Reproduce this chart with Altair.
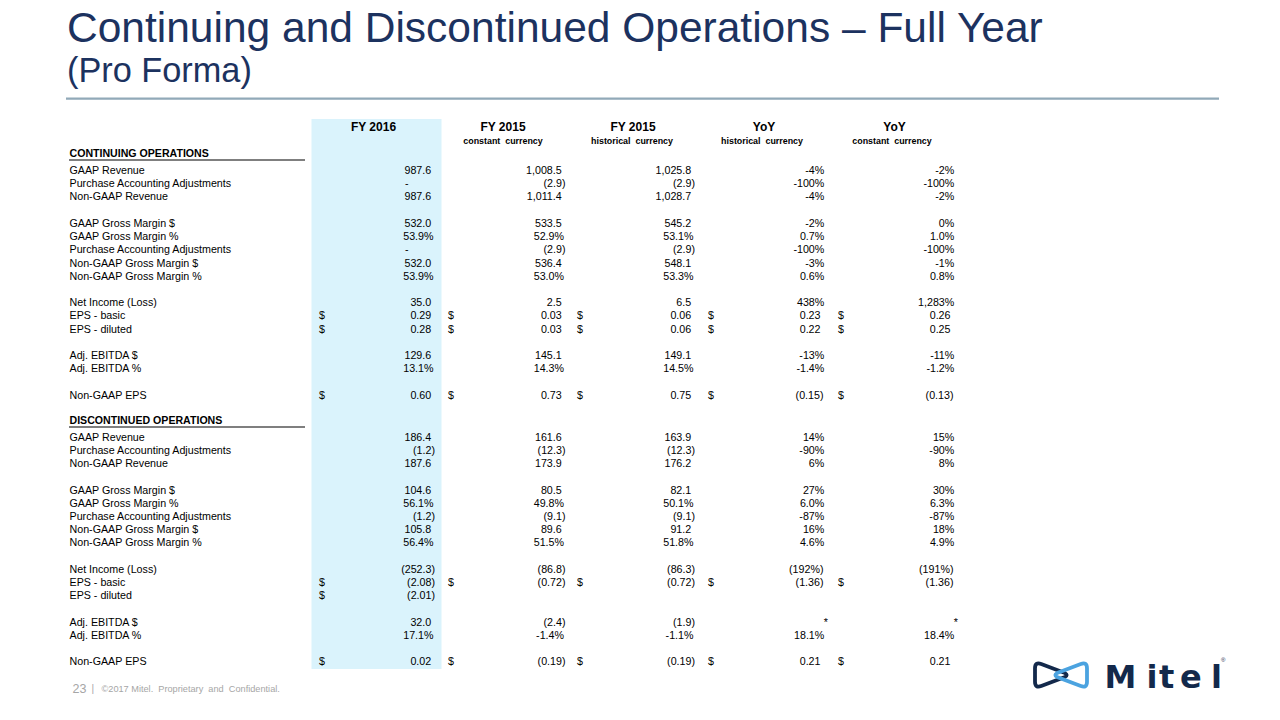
import altair as alt
import pandas as pd

# ------------------------------------------------------------------ data
title_line1 = "Continuing and Discontinued Operations \u2013 Full Year"
title_line2 = "(Pro Forma)"
page_number = "23"
footer_text = "\u00a92017 Mitel.\u00a0 Proprietary\u00a0 and\u00a0 Confidential."

col_heads = ["FY 2016", "FY 2015", "FY 2015", "YoY", "YoY"]
col_subheads = ["", "constant\u00a0 currency", "historical\u00a0 currency",
                "historical\u00a0 currency", "constant\u00a0 currency"]
section_titles = ["CONTINUING OPERATIONS", "DISCONTINUED OPERATIONS"]

row_labels = ["GAAP Revenue", "Purchase Accounting Adjustments", "Non-GAAP Revenue", "",
              "GAAP Gross Margin $", "GAAP Gross Margin %", "Purchase Accounting Adjustments",
              "Non-GAAP Gross Margin $", "Non-GAAP Gross Margin %", "",
              "Net Income (Loss)", "EPS - basic", "EPS - diluted", "",
              "Adj. EBITDA $", "Adj. EBITDA %", "", "Non-GAAP EPS"]
dollar_rows = ["EPS - basic", "EPS - diluted", "Non-GAAP EPS"]

cont_fy2016 = ["987.6", "-", "987.6", "", "532.0", "53.9%", "-", "532.0", "53.9%", "",
               "35.0", "0.29", "0.28", "", "129.6", "13.1%", "", "0.60"]
cont_fy2015_cc = ["1,008.5", "(2.9)", "1,011.4", "", "533.5", "52.9%", "(2.9)", "536.4", "53.0%", "",
                  "2.5", "0.03", "0.03", "", "145.1", "14.3%", "", "0.73"]
cont_fy2015_hist = ["1,025.8", "(2.9)", "1,028.7", "", "545.2", "53.1%", "(2.9)", "548.1", "53.3%", "",
                    "6.5", "0.06", "0.06", "", "149.1", "14.5%", "", "0.75"]
cont_yoy_hist = ["-4%", "-100%", "-4%", "", "-2%", "0.7%", "-100%", "-3%", "0.6%", "",
                 "438%", "0.23", "0.22", "", "-13%", "-1.4%", "", "(0.15)"]
cont_yoy_cc = ["-2%", "-100%", "-2%", "", "0%", "1.0%", "-100%", "-1%", "0.8%", "",
               "1,283%", "0.26", "0.25", "", "-11%", "-1.2%", "", "(0.13)"]

disc_fy2016 = ["186.4", "(1.2)", "187.6", "", "104.6", "56.1%", "(1.2)", "105.8", "56.4%", "",
               "(252.3)", "(2.08)", "(2.01)", "", "32.0", "17.1%", "", "0.02"]
disc_fy2015_cc = ["161.6", "(12.3)", "173.9", "", "80.5", "49.8%", "(9.1)", "89.6", "51.5%", "",
                  "(86.8)", "(0.72)", "", "", "(2.4)", "-1.4%", "", "(0.19)"]
disc_fy2015_hist = ["163.9", "(12.3)", "176.2", "", "82.1", "50.1%", "(9.1)", "91.2", "51.8%", "",
                    "(86.3)", "(0.72)", "", "", "(1.9)", "-1.1%", "", "(0.19)"]
disc_yoy_hist = ["14%", "-90%", "6%", "", "27%", "6.0%", "-87%", "16%", "4.6%", "",
                 "(192%)", "(1.36)", "", "", "*", "18.1%", "", "0.21"]
disc_yoy_cc = ["15%", "-90%", "8%", "", "30%", "6.3%", "-87%", "18%", "4.9%", "",
               "(191%)", "(1.36)", "", "", "*", "18.4%", "", "0.21"]

sections = [
    [cont_fy2016, cont_fy2015_cc, cont_fy2015_hist, cont_yoy_hist, cont_yoy_cc],
    [disc_fy2016, disc_fy2015_cc, disc_fy2015_hist, disc_yoy_hist, disc_yoy_cc],
]
logo_letters = ["M", "i", "t", "e", "l"]

# ------------------------------------------------------------------ layout
W, H = 1264, 700
FONT = "Liberation Sans"
NAVY = "#1C325F"
ROW_STEP = 13.22
sec_first_y = [170.0, 436.7]
sec_head_y = [152.7, 420.0]
sec_rule_y = [159.0, 426.0]
label_x = 69.5
col_right = [435.0, 565.5, 695.0, 823.5, 953.5]
dollar_x = [319.0, 448.0, 577.0, 708.0, 838.0]
head_x = [373.5, 503.0, 633.0, 764.0, 894.5]
subhead_x = [373.5, 503.0, 632.0, 762.0, 892.0]


def value_x(s, ci):
    r = col_right[ci]
    if s.endswith(")"):
        return r
    if s == "-":
        return r - 26.5
    if s == "*":
        return r + 4.5
    if s.endswith("%"):
        return r + (-1.5 if ci < 3 else 0.8)
    return r - (3.8 if ci < 3 else 3.0)


X = alt.X("x:Q", scale=alt.Scale(domain=[8, 8 + W], nice=False, zero=False), axis=None)
Y = alt.Y("y:Q", scale=alt.Scale(domain=[8, 8 + H], nice=False, zero=False, reverse=True), axis=None)


def text_layer(records, align, size, weight="normal", color="#000000",
               baseline="middle", font=FONT):
    df = pd.DataFrame(records, columns=["x", "y", "t"])
    return alt.Chart(df).mark_text(
        align=align, baseline=baseline, fontSize=size, fontWeight=weight,
        color=color, font=font
    ).encode(x=X, y=Y, text="t:N")


labels, values, dollars, sec_heads, sec_rules = [], [], [], [], []
for si, cols in enumerate(sections):
    sec_heads.append((label_x, sec_head_y[si], section_titles[si]))
    sec_rules.append({"x": 69.0, "x2": 305.0, "y": sec_rule_y[si]})
    for ri, lab in enumerate(row_labels):
        y = sec_first_y[si] + ri * ROW_STEP
        if lab:
            labels.append((label_x, y, lab))
        for ci, col in enumerate(cols):
            v = col[ri]
            if not v:
                continue
            values.append((value_x(v, ci), y, v))
            if lab in dollar_rows:
                dollars.append((dollar_x[ci], y, "$"))

heads = [(head_x[i], 125.7, col_heads[i]) for i in range(5)]
subheads = [(subhead_x[i], 140.0, col_subheads[i]) for i in range(5) if col_subheads[i]]

band = alt.Chart(pd.DataFrame([{"x": 311.5, "x2": 441.5, "y": 118.0, "y2": 668.0}])).mark_rect(
    color="#DAF3FC").encode(x=X, x2="x2:Q", y=Y, y2="y2:Q")

rules = alt.Chart(pd.DataFrame(sec_rules)).mark_rule(color="#000000", strokeWidth=1.2).encode(
    x=X, x2="x2:Q", y=Y)

title_rule = alt.Chart(pd.DataFrame([{"x": 66.0, "x2": 1219.0, "y": 97.7}])).mark_rule(
    color="#91A9B8", strokeWidth=2.2).encode(x=X, x2="x2:Q", y=Y)

title1 = text_layer([(67.0, 41.0, title_line1)], "left", 42.5, color=NAVY, baseline="alphabetic")
title2 = text_layer([(67.0, 81.0, title_line2)], "left", 34.3, color=NAVY, baseline="alphabetic")

footer_num = text_layer([(72.5, 687.5, page_number)], "left", 12.5, color="#A6A6A6")
footer_bar = text_layer([(92.7, 687.5, "|")], "center", 10, color="#A6A6A6")
footer_txt = text_layer([(101.5, 687.5, footer_text)], "left", 9.2, color="#A6A6A6")

# logo
left_loop = ("M 0.14,-0.07 L -0.70,-0.39 Q -0.92,-0.47 -0.92,-0.24 L -0.92,0.24 "
             "Q -0.92,0.47 -0.70,0.39 L 0.14,0.07 Q 0.26,0 0.14,-0.07 Z")
right_loop = ("M -0.14,-0.07 L 0.70,-0.39 Q 0.92,-0.47 0.92,-0.24 L 0.92,0.24 "
              "Q 0.92,0.47 0.70,0.39 L -0.14,0.07 Q -0.26,0 -0.14,-0.07 Z")
logo_pt = pd.DataFrame([{"x": 1061.0, "y": 674.0}])
icon_l = alt.Chart(logo_pt).mark_point(shape=left_loop, filled=False, size=3194,
                                        strokeWidth=3.8, color="#13294B", opacity=1).encode(x=X, y=Y)
icon_r = alt.Chart(logo_pt).mark_point(shape=right_loop, filled=False, size=3194,
                                        strokeWidth=3.8, color="#4BA3E0", opacity=1).encode(x=X, y=Y)
letter_x = [1104.5, 1146.5, 1159.0, 1180.0, 1211.0]
logo_txt = text_layer([(letter_x[i], 687.0, logo_letters[i]) for i in range(5)], "left", 32,
                      weight="bold", color="#13294B", baseline="alphabetic", font="DejaVu Sans")
logo_reg = text_layer([(1221.0, 659.0, "\u00ae")], "left", 6, color="#13294B")

chart = alt.layer(
    band, title_rule, rules,
    title1, title2,
    text_layer(heads, "center", 12, weight="bold"),
    text_layer(subheads, "center", 8.9, weight="bold"),
    text_layer(sec_heads, "left", 10.6, weight="bold"),
    text_layer(labels, "left", 10.7),
    text_layer(values, "right", 10.7),
    text_layer(dollars, "left", 10.7),
    footer_num, footer_bar, footer_txt,
    icon_l, icon_r, logo_txt, logo_reg,
).properties(width=W, height=H, padding=0, background="white").configure_view(stroke=None)

chart.save("out.html", embed_options={"renderer": "svg", "actions": False})
